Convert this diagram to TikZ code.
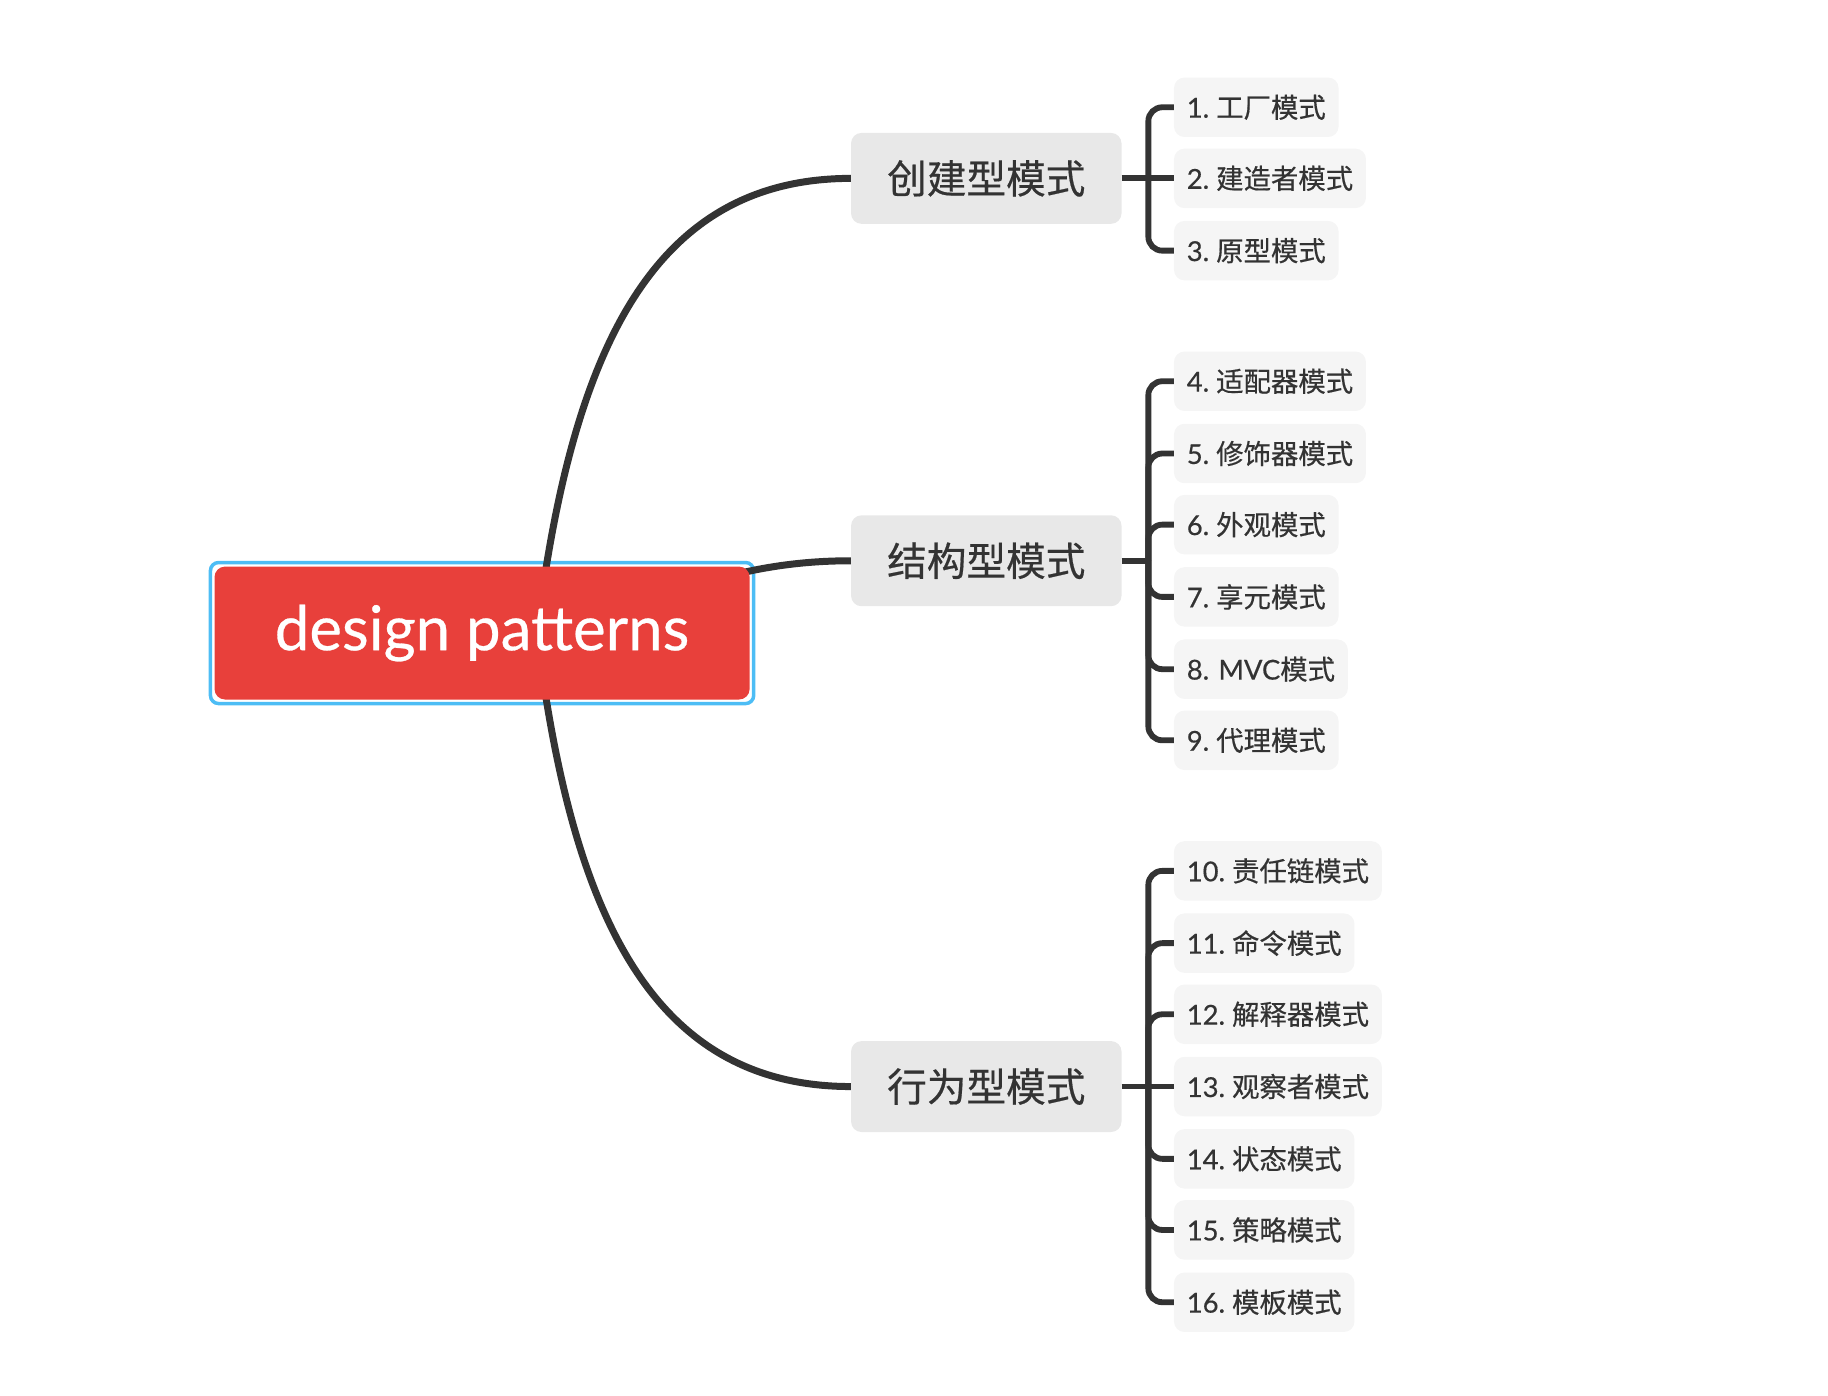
\documentclass[tikz,border=0pt]{standalone}
\usepackage{fontspec}
\setmainfont{Lato}[FakeBold=0.45]
\newfontfamily\cjkf{Noto Sans CJK SC}[FakeBold=0.45]
\usetikzlibrary{backgrounds,calc}
\definecolor{rootred}{HTML}{E8403B}
\definecolor{selblue}{HTML}{4DBDF5}
\definecolor{lonegray}{HTML}{E8E8E8}
\definecolor{ltwogray}{HTML}{F5F5F5}
\definecolor{ink}{HTML}{333333}
\newcommand\lbl[2]{#1~{\cjkf #2}}
\begin{document}
\begin{tikzpicture}[x=1pt,y=-1pt,
  rootnode/.style={fill=rootred, text=white, rounded corners=9pt, minimum width=459pt, minimum height=114pt, inner sep=0pt, outer sep=0pt, font=\fontsize{53}{60}\selectfont},
  lone/.style={fill=lonegray, text=ink, rounded corners=9pt, minimum width=232pt, minimum height=78pt, inner sep=0pt, outer sep=0pt, font=\cjkf\fontsize{34}{40}\selectfont},
  ltwo/.style={fill=ltwogray, text=ink, rounded corners=9pt, minimum height=51pt, inner xsep=11pt, inner ysep=0pt, outer sep=0pt, anchor=west, font=\fontsize{23.5}{28}\selectfont},
  curve/.style={draw=ink, line width=6pt},
  branch/.style={draw=ink, line width=5pt, rounded corners=12pt},
  selection/.style={draw=selblue, line width=3pt, rounded corners=7pt}
]
\useasboundingbox (0,0) rectangle (1568,1197);

% nodes
\node[rootnode] (root) at (413.5,543) {design patterns};
\node[lone] (c1) at (846,153) {创建型模式};
\node[lone] (c2) at (846,481) {结构型模式};
\node[lone] (c3) at (846,932) {行为型模式};

\node[ltwo] (n1) at (1007,92) {\lbl{1.}{工厂模式}};
\node[ltwo] (n2) at (1007,153) {\lbl{2.}{建造者模式}};
\node[ltwo] (n3) at (1007,215) {\lbl{3.}{原型模式}};

\node[ltwo] (n4) at (1007,327) {\lbl{4.}{适配器模式}};
\node[ltwo] (n5) at (1007,389) {\lbl{5.}{修饰器模式}};
\node[ltwo] (n6) at (1007,450) {\lbl{6.}{外观模式}};
\node[ltwo] (n7) at (1007,512) {\lbl{7.}{享元模式}};
\node[ltwo] (n8) at (1007,574) {8. MVC{\cjkf 模式}};
\node[ltwo] (n9) at (1007,635) {\lbl{9.}{代理模式}};

\node[ltwo] (n10) at (1007,747) {\lbl{10.}{责任链模式}};
\node[ltwo] (n11) at (1007,809) {\lbl{11.}{命令模式}};
\node[ltwo] (n12) at (1007,870) {\lbl{12.}{解释器模式}};
\node[ltwo] (n13) at (1007,932) {\lbl{13.}{观察者模式}};
\node[ltwo] (n14) at (1007,994) {\lbl{14.}{状态模式}};
\node[ltwo] (n15) at (1007,1055) {\lbl{15.}{策略模式}};
\node[ltwo] (n16) at (1007,1117) {\lbl{16.}{模板模式}};

% trunks
\coordinate (t1) at ([xshift=23pt]c1.east);
\coordinate (t2) at ([xshift=23pt]c2.east);
\coordinate (t3) at ([xshift=23pt]c3.east);

\draw[branch] (c1.east) -- (t1);
\draw[branch] (t1) |- (n1.west);
\draw[branch] (t1) -- (n2.west);
\draw[branch] (t1) |- (n3.west);

\draw[branch] (c2.east) -- (t2);
\foreach \n in {n4,n5,n6,n7,n8,n9} \draw[branch] (t2) |- (\n.west);

\draw[branch] (c3.east) -- (t3);
\foreach \n in {n10,n11,n12,n14,n15,n16} \draw[branch] (t3) |- (\n.west);
\draw[branch] (t3) -- (n13.west);

% root connectors and selection frame behind root
\begin{scope}[on background layer]
\draw[selection] ([xshift=-3.5pt,yshift=3.5pt]root.north west) rectangle ([xshift=3.5pt,yshift=-3.5pt]root.south east);
\coordinate (rs) at ([xshift=47pt]root.center);
\draw[curve] (rs) .. controls +(30,-243) and +(-170,0) .. (c1.west);
\draw[curve] (rs) .. controls +(80,-8) and +(-130,0) .. (c2.west);
\draw[curve] (rs) .. controls +(30,243) and +(-170,0) .. (c3.west);
\end{scope}
\end{tikzpicture}
\end{document}
